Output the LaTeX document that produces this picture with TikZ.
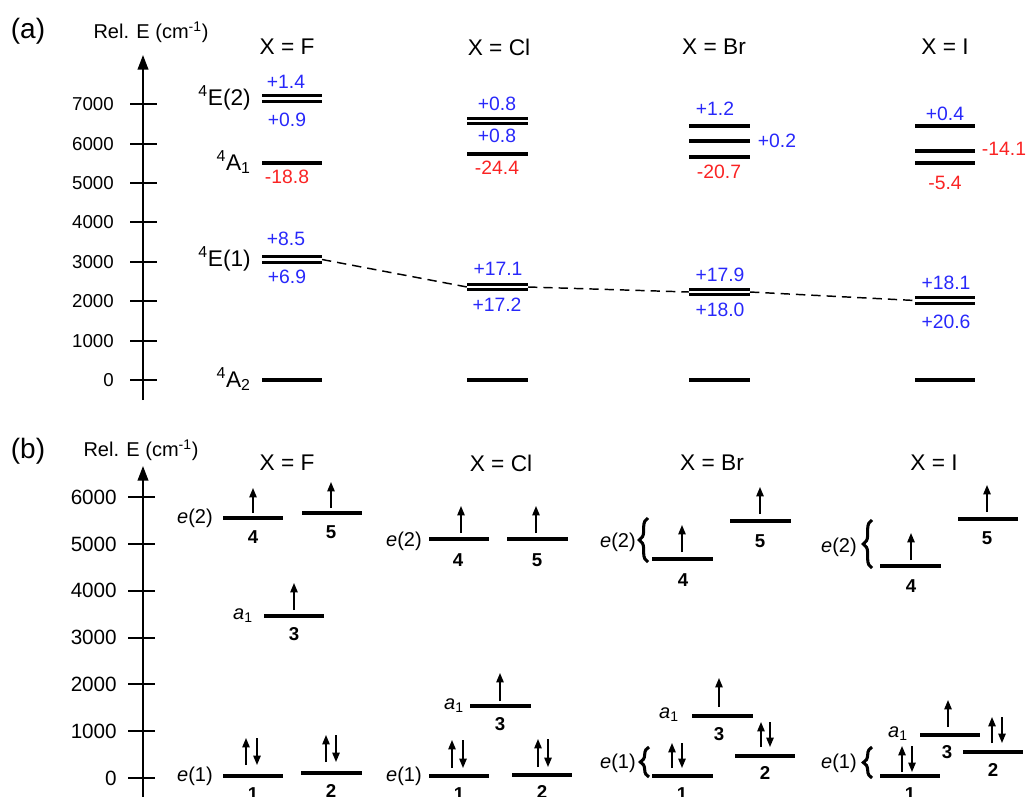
\documentclass[tikz,border=0pt]{standalone}
\usepackage{fontspec}
\setmainfont{Liberation Sans}
\usetikzlibrary{arrows.meta,decorations.pathreplacing}
\definecolor{vblue}{RGB}{40,40,250}
\definecolor{vred}{RGB}{250,35,35}
\newcommand{\mylevel}[4]{\coordinate (#1-l) at (#2,#4);\coordinate (#1-r) at (#3,#4);\draw[lvlline] (#1-l) -- (#1-r);}
\newcommand{\mydlevel}[4]{\coordinate (#1-l) at (#2,#4);\coordinate (#1-r) at (#3,#4);%
  \draw[dblline] ([yshift=2.1pt]#1-l) -- ([yshift=2.1pt]#1-r);%
  \draw[dblline] ([yshift=-2.1pt]#1-l) -- ([yshift=-2.1pt]#1-r);}
\newcommand{\myspin}[4]{\coordinate (#1-a) at (#2,#3);\coordinate (#1-b) at (#2,#4);\draw[spin] (#1-a) -- (#1-b);}
\newcommand{\mybrace}[4]{\coordinate (#1-a) at (#2,#3);\coordinate (#1-b) at (#2,#4);\draw[bracestyle] (#1-a) -- (#1-b);}
\begin{document}
\begin{tikzpicture}[x=0.75pt,y=-0.75pt,
  lvlline/.style={line width=3pt},
  dblline/.style={line width=2.5pt},
  axisline/.style={line width=1.4pt},
  tickline/.style={line width=1.4pt},
  spin/.style={line width=1.1pt,-{Triangle[length=7pt,width=5.5pt]}},
  dashconn/.style={dash pattern=on 7pt off 4.5pt,line width=1.1pt},
  bracestyle/.style={decorate,decoration={brace,amplitude=6.5pt},line width=2.3pt},
  panel/.style={inner sep=0pt,font=\fontsize{21}{24}\selectfont},
  axtitle/.style={inner sep=0pt,font=\fontsize{15}{17}\selectfont},
  header/.style={inner sep=0pt,font=\fontsize{17}{19}\selectfont},
  ticklab/.style={inner sep=0pt,anchor=east,font=\fontsize{14}{16}\selectfont},
  ticklabb/.style={inner sep=0pt,anchor=east,font=\fontsize{15.5}{17}\selectfont},
  term/.style={inner sep=0pt,anchor=base east,font=\fontsize{17}{19}\selectfont},
  blab/.style={inner sep=0pt,text=vblue,font=\fontsize{14.5}{16}\selectfont},
  rlab/.style={inner sep=0pt,text=vred,font=\fontsize{14.5}{16}\selectfont},
  olab/.style={inner sep=0pt,anchor=east,font=\fontsize{15}{17}\selectfont},
  num/.style={inner sep=0pt,font=\fontsize{14}{16}\selectfont\bfseries}]
\useasboundingbox (0,0) rectangle (1027,796);
% ================= (a) =================
\node[panel] (pa) at (28,31) {(a)};
\node[axtitle] (ta-title) at (151,32) {Rel. E (cm\textsuperscript{-1})};
\coordinate (A-bot) at (143,400);
\coordinate (A-top) at (143,55);
\draw[axisline,-{Triangle[length=11pt,width=8pt]}] (A-bot) -- (A-top);
\foreach \k in {0,...,7}{
  \pgfmathsetmacro\yy{380-39.4*\k}
  \coordinate (At\k-l) at (130,\yy); \coordinate (At\k-r) at (157,\yy);
  \draw[tickline] (At\k-l) -- (At\k-r);
  \node[ticklab] (Atl\k) at (114,\yy) {\the\numexpr\k*1000\relax};
}
\node[header] (hF) at (287,47) {X = F};
\node[header] (hCl) at (499,47) {X = Cl};
\node[header] (hBr) at (714,47) {X = Br};
\node[header] (hI) at (945,47) {X = I};
% F
\mydlevel{F-E2}{262}{322}{98.5}
\mylevel{F-A1}{262}{322}{163}
\mydlevel{F-E1}{262}{322}{259.5}
\mylevel{F-A2}{262}{322}{380}
\node[term] (tE2) at (251,105) {\textsuperscript{4}E(2)};
\node[term] (tA1) at (251,170) {\textsuperscript{4}A\textsubscript{1}};
\node[term] (tE1) at (251,266) {\textsuperscript{4}E(1)};
\node[term] (tA2) at (251,387) {\textsuperscript{4}A\textsubscript{2}};
\node[blab] (F1) at (286,82) {+1.4};
\node[blab] (F2) at (287,120) {+0.9};
\node[rlab] (F3) at (287,177) {-18.8};
\node[blab] (F4) at (286,239) {+8.5};
\node[blab] (F5) at (287,277) {+6.9};
% Cl
\mydlevel{Cl-E2}{467}{528}{121}
\mylevel{Cl-A1}{467}{528}{154}
\mydlevel{Cl-E1}{467}{528}{287}
\mylevel{Cl-A2}{467}{528}{380}
\node[blab] (C1) at (497,104) {+0.8};
\node[blab] (C2) at (497,136) {+0.8};
\node[rlab] (C3) at (497,168) {-24.4};
\node[blab] (C4) at (498,269) {+17.1};
\node[blab] (C5) at (497,305) {+17.2};
% Br
\mylevel{Br-a}{689}{750}{126}
\mylevel{Br-b}{689}{750}{141}
\mylevel{Br-c}{689}{750}{157}
\mydlevel{Br-E1}{689}{750}{292}
\mylevel{Br-A2}{689}{750}{380}
\node[blab] (B1) at (715,109) {+1.2};
\node[blab] (B2) at (777,141) {+0.2};
\node[rlab] (B3) at (719,172) {-20.7};
\node[blab] (B4) at (720,275) {+17.9};
\node[blab] (B5) at (720,310) {+18.0};
% I
\mylevel{I-a}{915}{975}{126}
\mylevel{I-b}{915}{975}{151}
\mylevel{I-c}{915}{975}{163}
\mydlevel{I-E1}{915}{975}{300.5}
\mylevel{I-A2}{915}{975}{380}
\node[blab] (I1) at (945,114) {+0.4};
\node[rlab] (I2) at (1004,149) {-14.1};
\node[rlab] (I3) at (945,183) {-5.4};
\node[blab] (I4) at (946,283) {+18.1};
\node[blab] (I5) at (946,322) {+20.6};
% dashed correlation
\draw[dashconn] (F-E1-r) -- (Cl-E1-l);
\draw[dashconn] (Cl-E1-r) -- (Br-E1-l);
\draw[dashconn] (Br-E1-r) -- (I-E1-l);
% ================= (b) =================
\node[panel] (pb) at (28,451) {(b)};
\node[axtitle] (tb-title) at (141,450) {Rel. E (cm\textsuperscript{-1})};
\coordinate (B-bot) at (143,800);
\coordinate (B-top) at (143,466);
\draw[axisline,-{Triangle[length=11pt,width=8pt]}] (B-bot) -- (B-top);
\foreach \k in {0,...,6}{
  \pgfmathsetmacro\yy{778-46.8*\k}
  \coordinate (Bt\k-l) at (128,\yy); \coordinate (Bt\k-r) at (155,\yy);
  \draw[tickline] (Bt\k-l) -- (Bt\k-r);
  \node[ticklabb] (Btl\k) at (117,\yy) {\the\numexpr\k*1000\relax};
}
\node[header] (bhF) at (287,463) {X = F};
\node[header] (bhCl) at (501,463) {X = Cl};
\node[header] (bhBr) at (712,463) {X = Br};
\node[header] (bhI) at (934,463) {X = I};
% F
\mylevel{bF4}{223}{283}{518}\myspin{sF4}{253}{513}{488}
\node[num] (nF4) at (253,537) {4};
\mylevel{bF5}{302}{362}{513}\myspin{sF5}{331}{508}{482}
\node[num] (nF5) at (331,532) {5};
\mylevel{bF3}{264}{324}{616}\myspin{sF3}{294}{610}{583}
\node[num] (nF3) at (294,634) {3};
\mylevel{bF1}{223}{283}{776}\myspin{sF1u}{246}{765}{738}\myspin{sF1d}{257}{738}{765}
\node[num] (nF1) at (253,794) {1};
\mylevel{bF2}{301}{362}{773}\myspin{sF2u}{326}{762}{735}\myspin{sF2d}{336}{735}{762}
\node[num] (nF2) at (331,791) {2};
\node[olab] (lF-e2) at (213,518) {\textit{e}(2)};
\node[olab] (lF-a1) at (253,616) {\textit{a}\textsubscript{1}};
\node[olab] (lF-e1) at (213,776) {\textit{e}(1)};
% Cl
\mylevel{bC4}{429}{489}{539}\myspin{sC4}{461}{533}{506}
\node[num] (nC4) at (458,560) {4};
\mylevel{bC5}{507}{568}{539}\myspin{sC5}{536}{533}{506}
\node[num] (nC5) at (537,560) {5};
\mylevel{bC3}{470}{531}{706}\myspin{sC3}{500}{701}{673}
\node[num] (nC3) at (500,724) {3};
\mylevel{bC1}{429}{489}{776}\myspin{sC1u}{452}{768}{740}\myspin{sC1d}{463}{740}{768}
\node[num] (nC1) at (459,794) {1};
\mylevel{bC2}{512}{572}{775}\myspin{sC2u}{538}{767}{739}\myspin{sC2d}{548}{739}{767}
\node[num] (nC2) at (542,792) {2};
\node[olab] (lC-e2) at (422,541) {\textit{e}(2)};
\node[olab] (lC-a1) at (464,706) {\textit{a}\textsubscript{1}};
\node[olab] (lC-e1) at (422,776) {\textit{e}(1)};
% Br
\mylevel{bB4}{652}{713}{559}\myspin{sB4}{682}{552}{525}
\node[num] (nB4) at (683,580) {4};
\mylevel{bB5}{730}{791}{521}\myspin{sB5}{760}{514}{487}
\node[num] (nB5) at (760,541) {5};
\mylevel{bB3}{692}{753}{716}\myspin{sB3}{719}{707}{678}
\node[num] (nB3) at (719,734) {3};
\mylevel{bB2}{735}{795}{756}\myspin{sB2u}{761}{747}{722}\myspin{sB2d}{770}{722}{747}
\node[num] (nB2) at (765,773) {2};
\mylevel{bB1}{652}{713}{776}\myspin{sB1u}{672}{768}{743}\myspin{sB1d}{682}{743}{768}
\node[num] (nB1) at (682,794) {1};
\node[olab] (lB-e2) at (636,542) {\textit{e}(2)};
\mybrace{brB2}{648}{562}{518}
\node[olab] (lB-a1) at (679,715) {\textit{a}\textsubscript{1}};
\node[olab] (lB-e1) at (636,763) {\textit{e}(1)};
\mybrace{brB1}{649}{777}{747}
% I
\mylevel{bI4}{880}{941}{566}\myspin{sI4}{911}{560}{533}
\node[num] (nI4) at (911,586) {4};
\mylevel{bI5}{958}{1018}{519}\myspin{sI5}{987}{512}{485}
\node[num] (nI5) at (987,538) {5};
\mylevel{bI3}{920}{980}{735}\myspin{sI3}{948}{727}{700}
\node[num] (nI3) at (947,752) {3};
\mylevel{bI2}{963}{1023}{752}\myspin{sI2u}{992}{743}{717}\myspin{sI2d}{1002}{717}{743}
\node[num] (nI2) at (993,770) {2};
\mylevel{bI1}{880}{940}{776}\myspin{sI1u}{902}{772}{746}\myspin{sI1d}{912}{746}{772}
\node[num] (nI1) at (910,794) {1};
\node[olab] (lI-e2) at (857,547) {\textit{e}(2)};
\mybrace{brI2}{872}{568}{520}
\node[olab] (lI-a1) at (908,734) {\textit{a}\textsubscript{1}};
\node[olab] (lI-e1) at (857,763) {\textit{e}(1)};
\mybrace{brI1}{872}{778}{747}
\end{tikzpicture}
\end{document}
